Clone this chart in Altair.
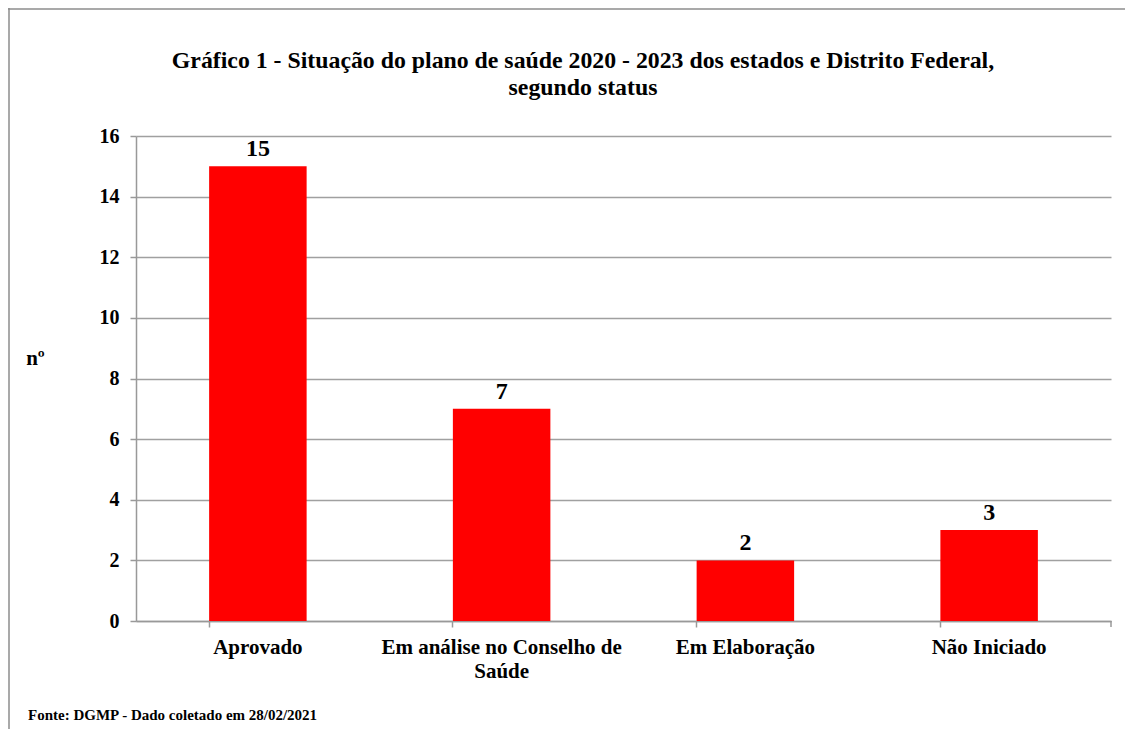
import altair as alt
import pandas as pd

categories = ["Aprovado", "Em análise no Conselho de Saúde", "Em Elaboração", "Não Iniciado"]
values = [15, 7, 2, 3]
y_ticks = [0, 2, 4, 6, 8, 10, 12, 14, 16]
title_lines = ["Gráfico 1 - Situação do plano de saúde 2020 - 2023 dos estados e Distrito Federal,", "segundo status"]
footer = "Fonte: DGMP - Dado coletado em 28/02/2021"

df = pd.DataFrame({"cat": categories, "val": values})
FONT = "Liberation Serif"
W, H = 975, 485
PL, PT, PR, PB = 128, 128, 14, 108

x_enc = alt.X(
    "cat:N", sort=categories, title=None,
    scale=alt.Scale(paddingInner=0.6, paddingOuter=0.3),
    axis=alt.Axis(
        labelAngle=0, labelFont=FONT, labelFontSize=21, labelFontWeight="bold",
        labelColor="black", labelPadding=9, labelLineHeight=24,
        labelExpr="datum.label == 'Em análise no Conselho de Saúde' ? ['Em análise no Conselho de', 'Saúde'] : datum.label",
        bandPosition=0, tickSize=6, tickColor="#999999", tickWidth=1.5,
        domainColor="#999999", domainWidth=1.5, grid=False,
    ),
)
y_enc = alt.Y(
    "val:Q", title="nº",
    scale=alt.Scale(domain=[0, 16]),
    axis=alt.Axis(
        values=y_ticks, labelFont=FONT, labelFontSize=20, labelFontWeight="bold",
        labelColor="black", labelPadding=11, tickSize=6, tickColor="#999999", tickWidth=1.5,
        domainColor="#999999", domainWidth=1.5, gridColor="#a0a0a0", gridWidth=1.5,
        titleAngle=0, titleFont=FONT, titleFontSize=21, titleFontWeight="bold",
        titleColor="black", titleX=-101, titleY=222, titleAlign="center", titleBaseline="middle",
    ),
)

base = alt.Chart(df)
bars = base.mark_bar(color="#FF0000").encode(x=x_enc, y=y_enc)
labels = base.mark_text(
    font=FONT, fontSize=24, fontWeight="bold", color="black", baseline="bottom", dy=-5
).encode(x=alt.X("cat:N", sort=categories), y="val:Q", text="val:Q")

foot = alt.Chart(pd.DataFrame({"t": [footer]})).mark_text(
    font=FONT, fontSize=15, fontWeight="bold", color="black", align="left", baseline="middle"
).encode(text="t:N", x=alt.value(28 - 8 - PL), y=alt.value(715 - 8 - PT))

title_df = pd.DataFrame({"t": title_lines, "yy": [68 - 8 - PT, 95 - 8 - PT]})
title_marks = alt.Chart(title_df).mark_text(
    font=FONT, fontSize=23.8, fontWeight="bold", color="black", align="center", baseline="alphabetic"
).encode(text="t:N", x=alt.value(583 - 8 - PL), y=alt.Y("yy:Q", scale=None))

border_top = alt.Chart(pd.DataFrame({"a": [0]})).mark_rule(color="#8c8c8c", strokeWidth=1.5).encode(
    x=alt.value(-PL), x2=alt.value(W + PR), y=alt.value(-PT + 1)
)
border_left = alt.Chart(pd.DataFrame({"a": [0]})).mark_rule(color="#8c8c8c", strokeWidth=1.5).encode(
    x=alt.value(-PL + 1), y=alt.value(-PT), y2=alt.value(H + PB)
)
right_tick = alt.Chart(pd.DataFrame({"a": [0]})).mark_rule(color="#999999", strokeWidth=1.5).encode(
    x=alt.value(W), y=alt.value(H), y2=alt.value(H + 6)
)

chart = alt.layer(bars, labels, foot, title_marks, border_top, border_left, right_tick).properties(
    width=W, height=H,
    autosize=alt.AutoSizeParams(type="none"),
    padding={"left": PL, "top": PT, "right": PR, "bottom": PB},
).configure_view(stroke=None).configure_axisX(labelLimit=300)

chart.save("out.html", embed_options={"renderer": "svg", "actions": False})
